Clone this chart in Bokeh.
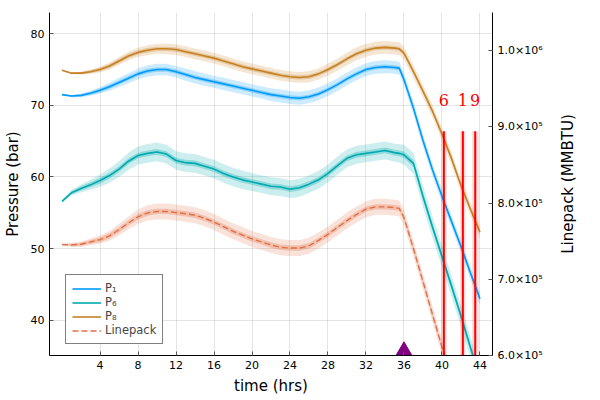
import math
from bokeh.plotting import figure
from bokeh.layouts import row
from bokeh.models import Range1d, LinearAxis, Legend, LegendItem, FixedTicker
from bokeh.embed import file_html
from bokeh.resources import INLINE
from bokeh.core.properties import value

# ---------------- data ----------------
hours = [0, 1, 2, 3, 4, 5, 6, 7, 8, 9, 10, 11, 12, 13, 14, 15, 16, 17, 18, 19,
         20, 21, 22, 23, 24, 25, 26, 27, 28, 29, 30, 31, 32, 33, 34, 35, 35.5,
         36, 37, 38, 39, 40, 41, 42, 43, 44]

p1 = [71.5, 71.3, 71.4, 71.7, 72.1, 72.6, 73.2, 73.8, 74.4, 74.8, 75.0, 75.0, 74.7, 74.3,
      73.9, 73.6, 73.3, 73.0, 72.7, 72.4, 72.1, 71.8, 71.5, 71.3, 71.1, 71.0, 71.2, 71.6,
      72.2, 72.9, 73.7, 74.4, 75.0, 75.3, 75.4, 75.3, 75.2, 73.6, 69.6, 65.1, 61.0, 57.3,
      53.8, 50.3, 46.6, 43.0]
p6 = [56.6, 57.8, 58.4, 58.9, 59.5, 60.2, 61.1, 62.2, 63.0, 63.3, 63.5, 63.2, 62.3, 62.0,
      61.9, 61.5, 61.1, 60.5, 60.0, 59.6, 59.3, 59.0, 58.7, 58.6, 58.3, 58.5, 59.0, 59.6,
      60.5, 61.6, 62.6, 63.1, 63.3, 63.5, 63.7, 63.4, 63.3, 63.1, 61.9, 57.3, 53.0, 48.9,
      44.8, 40.6, 36.2, 31.8]
p8 = [74.9, 74.5, 74.5, 74.7, 75.0, 75.5, 76.2, 76.9, 77.4, 77.7, 77.9, 77.9, 77.8, 77.5,
      77.2, 76.9, 76.6, 76.2, 75.8, 75.4, 75.1, 74.8, 74.5, 74.2, 74.0, 73.9, 74.0, 74.4,
      75.0, 75.7, 76.5, 77.2, 77.7, 78.0, 78.1, 78.0, 77.9, 77.3, 74.7, 72.0, 69.2, 66.0,
      62.6, 58.8, 55.5, 52.3]
linepack = [745500, 745000, 746000, 749000, 752000, 757000, 765000, 774000, 782000, 787000,
            789000, 789000, 787500, 786000, 784000, 780000, 775000, 769000, 763000, 758000,
            753000, 749000, 745000, 742000, 741000, 741000, 744000, 751000, 759000, 768000,
            777000, 785000, 792000, 795000, 795000, 794000, 793000, 781000, 740000, 697000,
            654000, 611000, 568000, 525000, 482000, 439000]

# ribbon half-widths (outer = wide band, inner = narrow band)
p1_outer = [0.10, 0.15, 0.25, 0.35, 0.45, 0.55, 0.65, 0.70, 0.75, 0.80, 0.80, 0.80, 0.80, 0.85,
            0.85, 0.85, 0.85, 0.85, 0.85, 0.85, 0.85, 0.85, 0.90, 0.90, 0.90, 0.90, 0.90, 0.90,
            0.90, 0.90, 0.90, 0.90, 0.90, 0.90, 0.90, 0.90, 0.90, 0.90, 0.90, 0.90, 0.90, 0.90,
            0.90, 0.90, 0.90, 0.90]
p1_inner = [0.05, 0.10, 0.15, 0.20, 0.25, 0.28, 0.30, 0.30, 0.30, 0.30, 0.30, 0.30, 0.30, 0.30,
            0.30, 0.30, 0.30, 0.30, 0.30, 0.30, 0.30, 0.30, 0.30, 0.30, 0.30, 0.30, 0.30, 0.30,
            0.30, 0.30, 0.30, 0.30, 0.30, 0.30, 0.30, 0.30, 0.30, 0.30, 0.30, 0.30, 0.30, 0.30,
            0.30, 0.30, 0.30, 0.30]
p6_outer = [0.20, 0.40, 0.55, 0.70, 0.85, 1.00, 1.10, 1.20, 1.25, 1.30, 1.30, 1.30, 1.30, 1.30,
            1.30, 1.30, 1.30, 1.30, 1.30, 1.30, 1.25, 1.25, 1.25, 1.25, 1.25, 1.25, 1.25, 1.25,
            1.25, 1.25, 1.25, 1.25, 1.25, 1.25, 1.25, 1.25, 1.30, 1.40, 1.50, 1.50, 1.50, 1.50,
            1.50, 1.50, 1.50, 1.50]
p6_inner = [0.10, 0.20, 0.30, 0.35, 0.40, 0.40, 0.40, 0.40, 0.40, 0.40, 0.40, 0.40, 0.40, 0.40,
            0.40, 0.40, 0.40, 0.40, 0.40, 0.40, 0.40, 0.40, 0.40, 0.40, 0.40, 0.40, 0.40, 0.40,
            0.40, 0.40, 0.40, 0.40, 0.40, 0.40, 0.40, 0.40, 0.40, 0.45, 0.50, 0.50, 0.50, 0.50,
            0.50, 0.50, 0.50, 0.50]
p8_outer = [0.08, 0.12, 0.20, 0.30, 0.40, 0.50, 0.55, 0.60, 0.65, 0.70, 0.70, 0.75, 0.75, 0.75,
            0.75, 0.75, 0.75, 0.75, 0.75, 0.75, 0.75, 0.75, 0.75, 0.75, 0.75, 0.75, 0.80, 0.80,
            0.85, 0.85, 0.90, 0.90, 0.90, 0.90, 0.90, 0.90, 0.90, 0.90, 0.90, 0.90, 0.90, 0.90,
            0.90, 0.90, 0.90, 0.90]
p8_inner = [0.05, 0.10, 0.15, 0.20, 0.25, 0.28, 0.30, 0.30, 0.30, 0.30, 0.30, 0.30, 0.30, 0.30,
            0.30, 0.30, 0.30, 0.30, 0.30, 0.30, 0.30, 0.30, 0.30, 0.30, 0.30, 0.30, 0.30, 0.30,
            0.30, 0.30, 0.30, 0.30, 0.30, 0.30, 0.30, 0.30, 0.30, 0.30, 0.30, 0.30, 0.30, 0.30,
            0.30, 0.30, 0.30, 0.30]
lp_outer = [1500, 2500, 3500, 4500, 5500, 6500, 7500, 8500, 9500, 10000, 10500, 10500, 10500,
            10500, 10500, 10500, 10500, 10500, 10500, 10500, 10500, 10500, 10500, 10500, 10500,
            10500, 10500, 10500, 10500, 10500, 10500, 10500, 10500, 10500, 10500, 10500, 10500,
            10500, 10500, 10500, 10500, 10500, 10500, 10500, 10500, 10500]
lp_inner = [1000, 1500, 2000, 2500, 3000, 3500, 3500, 3500, 3500, 3500, 3500, 3500, 3500, 3500,
            3500, 3500, 3500, 3500, 3500, 3500, 3500, 3500, 3500, 3500, 3500, 3500, 3500, 3500,
            3500, 3500, 3500, 3500, 3500, 3500, 3500, 3500, 3500, 3500, 3500, 3500, 3500, 3500,
            3500, 3500, 3500, 3500]

event_times = [40.2, 42.2, 43.5]
event_spread = [0.30, 0.30, 0.35]
event_labels = ["6", "1", "9"]
event_top = 66.4
event_label_level = 70.7

alarm_time = [36]
alarm_level = [35.7]

x_ticks = [4, 8, 12, 16, 20, 24, 28, 32, 36, 40, 44]
y_ticks = [40, 50, 60, 70, 80]
lp_ticks = [600000, 700000, 800000, 900000, 1000000]
lp_tick_labels = ["6.0×10⁵", "7.0×10⁵", "8.0×10⁵", "9.0×10⁵", "1.0×10⁶"]
right_title = "Linepack (MMBTU)"

# ---------------- styling ----------------
C1, C6, C8, CLP = "#009AFA", "#00AAAE", "#C68225", "#E36F47"
x_lo, x_hi = -1.32, 45.32
y_lo, y_hi = 35.07, 82.97
lp_lo, lp_hi = 6.0e5, 1.05e6

p = figure(frame_width=443, frame_height=343, output_backend="svg", toolbar_location=None,
           x_range=Range1d(x_lo, x_hi), y_range=Range1d(y_lo, y_hi),
           min_border_left=47, min_border_right=61, min_border_top=12, min_border_bottom=37)
p.extra_y_ranges = {"lp": Range1d(lp_lo, lp_hi)}
p.outline_line_color = None
p.background_fill_color = "white"

def band(mean, spread, color, alpha, rng="default"):
    lo = [m - s for m, s in zip(mean, spread)]
    hi = [m + s for m, s in zip(mean, spread)]
    p.varea(x=hours, y1=lo, y2=hi, fill_color=color, fill_alpha=alpha, y_range_name=rng)

band(p1, p1_outer, C1, 0.2)
band(p1, p1_inner, C1, 0.3)
r1 = p.line(hours, p1, line_color=C1, line_width=1.6)
band(p6, p6_outer, C6, 0.2)
band(p6, p6_inner, C6, 0.3)
r6 = p.line(hours, p6, line_color=C6, line_width=1.6)
band(p8, p8_outer, C8, 0.2)
band(p8, p8_inner, C8, 0.3)
r8 = p.line(hours, p8, line_color=C8, line_width=1.6)
band(linepack, lp_outer, CLP, 0.2, "lp")
band(linepack, lp_inner, CLP, 0.3, "lp")
rlp = p.line(hours, linepack, line_color=CLP, line_width=1.4, line_dash="6 3", y_range_name="lp")

# event bands, lines and labels
p.quad(left=[t - w for t, w in zip(event_times, event_spread)],
       right=[t + w for t, w in zip(event_times, event_spread)],
       bottom=y_lo, top=event_top, fill_color="red", fill_alpha=0.13, line_color=None)
p.segment(x0=event_times, y0=y_lo, x1=event_times, y1=event_top, line_color="red", line_width=2)
p.text(x=event_times, y=event_label_level, text=event_labels, text_align="center",
       text_baseline="middle", text_color="red", text_font=value("DejaVu Serif"),
       text_font_size="16px")

p.scatter(x=alarm_time, y=alarm_level, marker="triangle", size=16,
          fill_color="#800080", line_color="#800080")

# axes
p.xaxis.ticker = FixedTicker(ticks=x_ticks)
p.yaxis.ticker = FixedTicker(ticks=y_ticks)
p.xaxis.axis_label = "time (hrs)"
p.yaxis.axis_label = "Pressure (bar)"

rax = LinearAxis(y_range_name="lp", ticker=FixedTicker(ticks=lp_ticks))
rax.major_label_overrides = {t: s for t, s in zip(lp_ticks, lp_tick_labels)}
p.add_layout(rax, "right")

for ax in [p.xaxis[0], p.yaxis[0], rax]:
    ax.axis_line_color = "black"
    ax.axis_line_width = 1
    ax.major_tick_in = 4
    ax.major_tick_out = 0
    ax.major_tick_line_color = "#555555"
    ax.minor_tick_line_color = None
    ax.major_label_text_font = "DejaVu Sans"
    ax.major_label_text_font_size = "11px"
    ax.major_label_text_color = "black"
    ax.axis_label_text_font = "DejaVu Sans"
    ax.axis_label_text_font_size = "15px"
    ax.axis_label_text_font_style = "normal"
    ax.axis_label_text_color = "black"
    ax.major_label_standoff = 5

p.xaxis.axis_label_standoff = 5
p.yaxis.axis_label_standoff = 6

p.xgrid.ticker = FixedTicker(ticks=x_ticks)
p.ygrid.ticker = FixedTicker(ticks=y_ticks)
p.grid.grid_line_color = "black"
p.grid.grid_line_alpha = 0.1
p.grid.grid_line_width = 1

legend = Legend(items=[LegendItem(label="P₁", renderers=[r1]),
                       LegendItem(label="P₆", renderers=[r6]),
                       LegendItem(label="P₈", renderers=[r8]),
                       LegendItem(label="Linepack", renderers=[rlp])],
                location=(16, 11), margin=0, padding=6, spacing=0,
                glyph_width=29, glyph_height=13, label_height=13, label_standoff=4,
                label_text_font="DejaVu Sans", label_text_font_size="11.5px",
                border_line_color="black", border_line_width=1,
                background_fill_color="white", background_fill_alpha=1.0)
p.add_layout(legend)

# narrow strip to the right holding the right-axis title (reads bottom-to-top)
q = figure(frame_width=28, frame_height=343, output_backend="svg", toolbar_location=None,
           x_range=Range1d(0, 1), y_range=Range1d(0, 1),
           x_axis_location=None, y_axis_location=None,
           min_border_left=0, min_border_right=0, min_border_top=12, min_border_bottom=37)
q.outline_line_color = None
q.grid.visible = False
q.text(x=[0.5], y=[0.5], text=[right_title], angle=math.pi / 2, text_align="center",
       text_baseline="middle", text_color="black", text_font=value("DejaVu Sans"),
       text_font_size="15px")

layout = row(p, q, spacing=0)
open("out.html", "w").write(file_html(layout, INLINE))
